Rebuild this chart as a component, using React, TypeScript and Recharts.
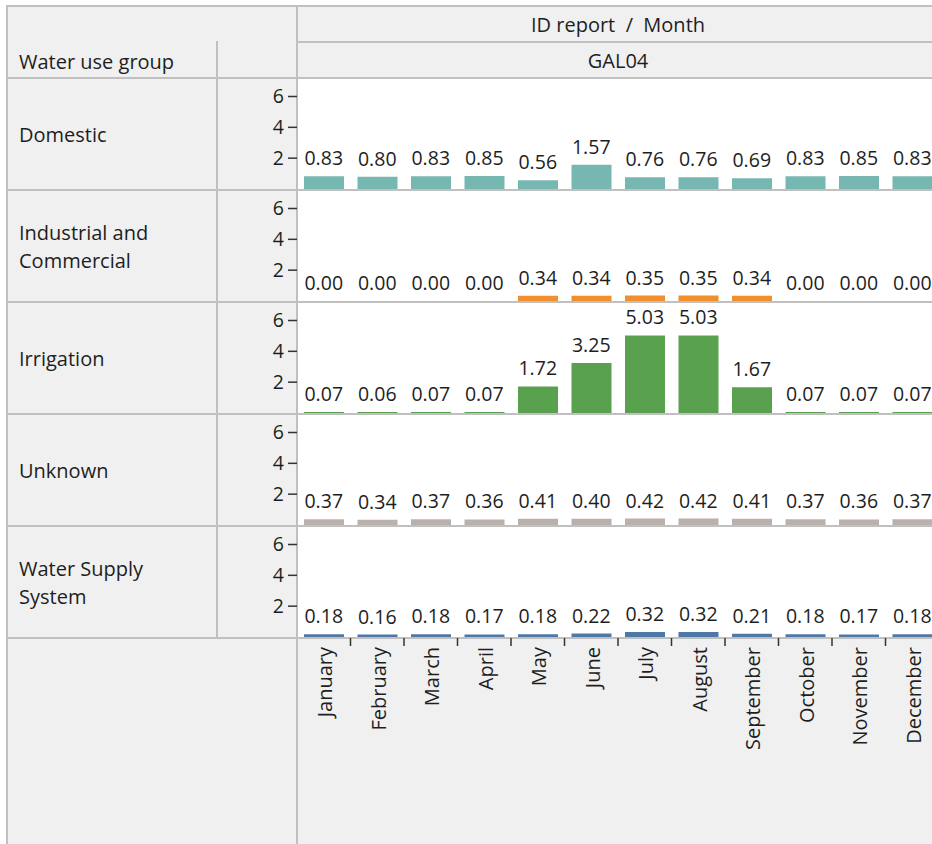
import React from 'react';
import { ComposedChart, Bar, Line, XAxis, YAxis, LabelList } from 'recharts';

const months = [
  'January', 'February', 'March', 'April', 'May', 'June',
  'July', 'August', 'September', 'October', 'November', 'December',
];

const groups = ['Domestic', 'Industrial and\nCommercial', 'Irrigation', 'Unknown', 'Water Supply\nSystem'];
const groupColors = ['#76b7b2', '#f28e2b', '#59a14f', '#bab0ac', '#4e79a7'];

const domestic = [0.83, 0.8, 0.83, 0.85, 0.56, 1.57, 0.76, 0.76, 0.69, 0.83, 0.85, 0.83];
const industrial = [0, 0, 0, 0, 0.34, 0.34, 0.35, 0.35, 0.34, 0, 0, 0];
const irrigation = [0.07, 0.06, 0.07, 0.07, 1.72, 3.25, 5.03, 5.03, 1.67, 0.07, 0.07, 0.07];
const unknown = [0.37, 0.34, 0.37, 0.36, 0.41, 0.4, 0.42, 0.42, 0.41, 0.37, 0.36, 0.37];
const waterSupply = [0.18, 0.16, 0.18, 0.17, 0.18, 0.22, 0.32, 0.32, 0.21, 0.18, 0.17, 0.18];

const series = [domestic, industrial, irrigation, unknown, waterSupply];
const yTicks = [2, 4, 6];

const FONT = '"Open Sans", "Noto Sans", sans-serif';
const GREY = '#f0f0f0';
const LINE = '#c0c0c0';
const TEXT = '#1e1e1e';

const ROW_TOP = 78;
const ROW_H = 112;
const AXIS_W = 80;
const PLOT_W = 642;
const BAND = PLOT_W / months.length;
const X_AXIS_H = 206;

const MonthTick = (props: any) => {
  const { x, y, payload, index } = props;
  return (
    <g>
      {index < months.length - 1 && (
        <line x1={x + BAND / 2} x2={x + BAND / 2} y1={y + 1} y2={y + 9} stroke="#333" strokeWidth={1.5} />
      )}
      <text
        transform={`translate(${x + 1},${y + 10}) rotate(-90)`}
        textAnchor="end"
        dominantBaseline="central"
        fontSize={20}
        fontFamily={FONT}
        fill={TEXT}
      >
        {payload.value}
      </text>
    </g>
  );
};

const hLine = (top: number, left: number, width: number, key: string) => (
  <div key={key} style={{ position: 'absolute', top, left, width, height: 2, background: LINE }} />
);
const vLine = (left: number, top: number, height: number, key: string) => (
  <div key={key} style={{ position: 'absolute', top, left, width: 2, height, background: LINE }} />
);

const App = () => {
  const rows = series.map((values) => months.map((m, i) => ({ month: m, value: values[i] })));

  return (
    <div
      style={{
        position: 'absolute',
        left: 0,
        top: 0,
        width: 932,
        height: 844,
        overflow: 'hidden',
        background: '#fff',
        fontFamily: FONT,
        color: TEXT,
      }}
    >
      <div style={{ position: 'absolute', left: 7, top: 6, width: 932, height: 844, background: GREY }} />
      <div style={{ position: 'absolute', left: 297, top: ROW_TOP, width: PLOT_W, height: ROW_H * 5, background: '#fff' }} />

      {hLine(5, 6, 932, 'top')}
      {vLine(6, 5, 844, 'left')}
      {vLine(296, 5, 844, 'panel')}
      {hLine(41, 297, 640, 'hdr')}
      {vLine(216, 41, ROW_H * 5 + 37, 'axis')}
      {[0, 1, 2, 3, 4, 5].map((i) => hLine(ROW_TOP - 1 + i * ROW_H, 6, 932, `row${i}`))}

      <div style={{ position: 'absolute', left: 297, width: PLOT_W, top: 7, height: 35, lineHeight: '35px', textAlign: 'center', fontSize: 20 }}>
        ID report&nbsp; /&nbsp; Month
      </div>
      <div style={{ position: 'absolute', left: 297, width: PLOT_W, top: 44, height: 34, lineHeight: '34px', textAlign: 'center', fontSize: 20 }}>
        GAL04
      </div>
      <div style={{ position: 'absolute', left: 19, top: 44, height: 36, lineHeight: '36px', fontSize: 20 }}>
        Water use group
      </div>

      {groups.map((g, i) => (
        <div
          key={g}
          style={{
            position: 'absolute',
            left: 19,
            top: ROW_TOP + 1 + i * ROW_H,
            height: ROW_H,
            display: 'flex',
            alignItems: 'center',
            whiteSpace: 'pre',
            fontSize: 20,
            lineHeight: '28px',
          }}
        >
          {g}
        </div>
      ))}

      {rows.map((data, i) => {
        const last = i === rows.length - 1;
        return (
          <div key={i} style={{ position: 'absolute', left: 217, top: ROW_TOP + i * ROW_H }}>
            <ComposedChart
              width={AXIS_W + PLOT_W}
              height={last ? ROW_H - 1 + X_AXIS_H : ROW_H - 1}
              data={data}
              margin={{ top: 0, right: 0, left: 0, bottom: 0 }}
              barSize={40}
            >
              <XAxis
                dataKey="month"
                hide={!last}
                height={X_AXIS_H}
                axisLine={false}
                tickLine={false}
                tickSize={0}
                tickMargin={0}
                interval={0}
                tick={<MonthTick />}
              />
              <YAxis
                width={AXIS_W}
                domain={[0, 7.2]}
                ticks={yTicks}
                interval={0}
                axisLine={false}
                tickSize={9}
                tickMargin={4}
                tickLine={{ stroke: '#333', strokeWidth: 1.5 }}
                tick={{ fontSize: 19.5, fill: TEXT, fontFamily: FONT }}
              />
              <Bar dataKey="value" fill={groupColors[i]} isAnimationActive={false} />
              <Line
                dataKey="value"
                stroke="none"
                dot={false}
                activeDot={false}
                isAnimationActive={false}
              >
                <LabelList
                  dataKey="value"
                  position="top"
                  offset={11}
                  formatter={(v: any) => Number(v).toFixed(2)}
                  style={{ fontSize: 19.5, fill: TEXT, fontFamily: FONT }}
                />
              </Line>
            </ComposedChart>
          </div>
        );
      })}
    </div>
  );
};

export default App;
